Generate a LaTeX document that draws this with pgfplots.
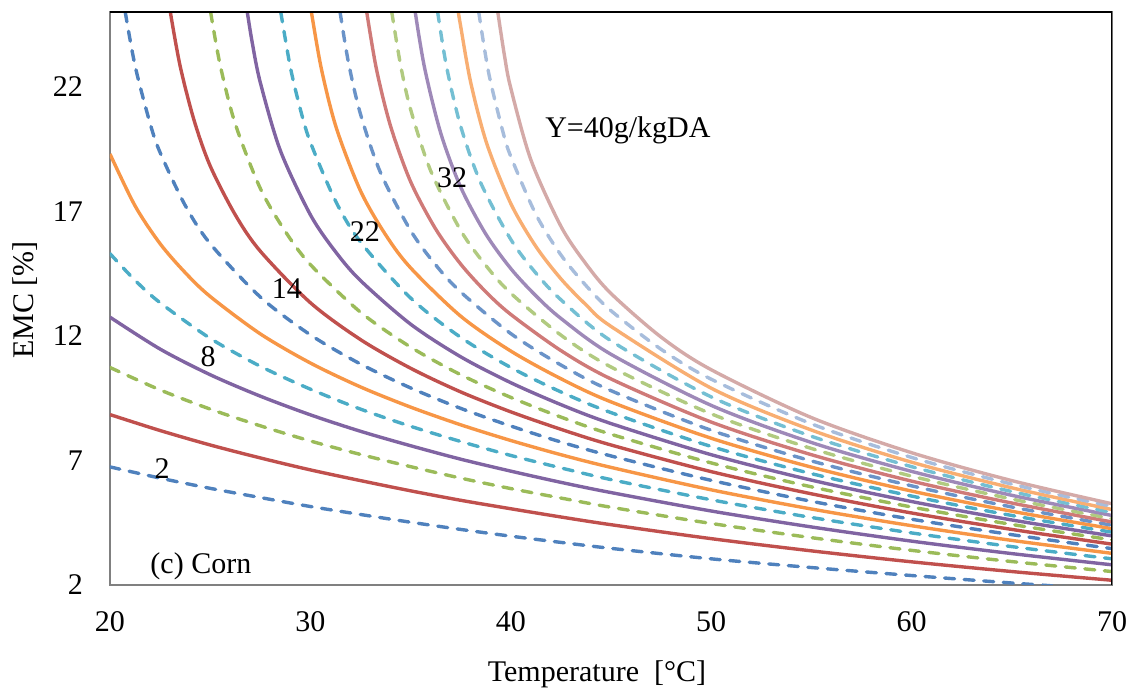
\documentclass[border=0pt]{standalone}
\usepackage{fontspec}
\setmainfont{Liberation Serif}
\usepackage{pgfplots}
\pgfplotsset{compat=1.18}
\definecolor{cA}{HTML}{4F81BD}
\definecolor{cB}{HTML}{C0504D}
\definecolor{cC}{HTML}{9BBB59}
\definecolor{cD}{HTML}{8064A2}
\definecolor{cE}{HTML}{4BACC6}
\definecolor{cF}{HTML}{F79646}
\definecolor{lA}{HTML}{6A93C8}
\definecolor{lB}{HTML}{CF7A78}
\definecolor{lC}{HTML}{B1CA80}
\definecolor{lD}{HTML}{9E89B8}
\definecolor{lE}{HTML}{74BFD3}
\definecolor{lF}{HTML}{F8AE72}
\definecolor{mA}{HTML}{A7BDDC}
\definecolor{mB}{HTML}{D4AAA8}
\tikzset{dsh/.style={dash pattern=on 5pt off 4.8pt, line cap=round}}
\begin{document}
\begin{tikzpicture}[font=\fontsize{15}{18}\selectfont]
\begin{axis}[
  at={(0,0)}, anchor=south west,
  scale only axis, width=501pt, height=286.5pt,
  xmin=20, xmax=70, ymin=2, ymax=25,
  xtick={20,30,40,50,60,70}, ytick={2,7,12,17,22},
  major tick length=0pt,
  axis line style={draw=black!50, line width=0.8pt},
  /pgf/number format/assume math mode=true,
  xticklabel style={yshift=-9.5pt},
  yticklabel style={xshift=-10pt},
  xlabel={Temperature\ \ [°C]},
  ylabel={EMC [\%]},
  every axis x label/.style={at={(axis description cs:0.486,-0.155)}, anchor=center},
  every axis y label/.style={at={(axis description cs:-0.0848,0.497)}, anchor=center, rotate=90},
  every axis plot/.append style={line width=1.7pt, smooth},
]
% Y=2
\addplot[cA,dsh] coordinates {(20,6.74) (22.5,6.29) (25,5.88) (27.5,5.51) (30,5.15) (32.5,4.83) (35,4.52) (37.5,4.23) (40,3.96) (42.5,3.71) (45,3.47) (50,3.05) (55,2.70) (60,2.38) (65,2.08) (70,1.80)};
% Y=4
\addplot[cB] coordinates {(20,8.84) (22.5,8.20) (25,7.62) (27.5,7.10) (30,6.62) (32.5,6.19) (35,5.78) (37.5,5.40) (40,5.06) (42.5,4.73) (45,4.42) (50,3.86) (55,3.37) (60,2.93) (65,2.54) (70,2.19)};
% Y=6
\addplot[cC,dsh] coordinates {(20,10.73) (22.5,9.83) (25,9.06) (27.5,8.39) (30,7.78) (32.5,7.24) (35,6.75) (37.5,6.29) (40,5.87) (42.5,5.49) (45,5.12) (50,4.47) (55,3.90) (60,3.39) (65,2.94) (70,2.54)};
% Y=8
\addplot[cD] coordinates {(20,12.75) (22.5,11.47) (25,10.44) (27.5,9.58) (30,8.83) (32.5,8.17) (35,7.59) (37.5,7.05) (40,6.57) (42.5,6.12) (45,5.71) (50,4.97) (55,4.33) (60,3.76) (65,3.26) (70,2.81)};
% Y=10
\addplot[cE,dsh] coordinates {(20,15.30) (21.25,14.23) (22.5,13.33) (25,11.90) (27.5,10.78) (30,9.86) (32.5,9.06) (35,8.37) (37.5,7.76) (40,7.20) (42.5,6.70) (45,6.23) (50,5.42) (55,4.71) (60,4.09) (65,3.54) (70,3.05)};
% Y=12
\addplot[cF] coordinates {(20,19.30) (21.25,17.22) (22.5,15.70) (23.75,14.54) (25,13.58) (27.5,12.08) (30,10.91) (32.5,9.95) (35,9.14) (37.5,8.43) (40,7.80) (42.5,7.23) (45,6.72) (50,5.82) (55,5.05) (60,4.38) (65,3.79) (70,3.27)};
% Y=14
\addplot[cA,dsh] coordinates {(20.76,25) (21.26,22.81) (22,20.53) (22.5,19.36) (23.75,17.24) (25,15.70) (27.5,13.56) (30,12.04) (32.5,10.87) (35,9.91) (37.5,9.09) (40,8.38) (42.5,7.74) (45,7.18) (50,6.20) (55,5.36) (60,4.64) (65,4.02) (70,3.46)};
% Y=16
\addplot[cB] coordinates {(23.01,25) (23.5,22.83) (24.2,20.64) (25,18.82) (26.25,16.86) (27.5,15.40) (30,13.33) (32.5,11.85) (35,10.70) (37.5,9.75) (40,8.95) (42.5,8.25) (45,7.62) (50,6.55) (55,5.66) (60,4.89) (65,4.23) (70,3.64)};
% Y=18
\addplot[cC,dsh] coordinates {(25.02,25) (25.5,22.86) (26.25,20.51) (27.5,17.92) (28.75,16.19) (30,14.86) (32.5,12.95) (35,11.55) (37.5,10.44) (40,9.53) (42.5,8.74) (45,8.05) (50,6.90) (55,5.94) (60,5.13) (65,4.43) (70,3.81)};
% Y=20
\addplot[cD] coordinates {(26.85,25) (27.1,23.76) (27.5,22.17) (28.5,19.44) (30,16.86) (31.25,15.38) (32.5,14.22) (35,12.47) (37.5,11.16) (40,10.12) (42.5,9.24) (45,8.48) (50,7.23) (55,6.21) (60,5.35) (65,4.61) (70,3.97)};
% Y=22
\addplot[cE,dsh] coordinates {(28.52,25) (29,22.78) (29.5,21.09) (30,19.77) (31.25,17.42) (32.5,15.77) (35,13.52) (37.5,11.94) (40,10.73) (42.5,9.75) (45,8.92) (50,7.56) (55,6.47) (60,5.57) (65,4.79) (70,4.12)};
% Y=24
\addplot[cF] coordinates {(30.05,25) (30.55,22.71) (31.3,20.33) (32.5,17.82) (33.75,16.06) (35,14.73) (37.5,12.79) (40,11.39) (42.5,10.28) (45,9.35) (50,7.89) (55,6.73) (60,5.77) (65,4.96) (70,4.26)};
% Y=26
\addplot[lA,dsh] coordinates {(31.48,25) (31.9,22.97) (32.5,20.90) (33.5,18.55) (35,16.23) (36.25,14.85) (37.5,13.76) (40,12.09) (42.5,10.83) (45,9.80) (50,8.21) (55,6.98) (60,5.98) (65,5.13) (70,4.40)};
% Y=28
\addplot[lB] coordinates {(32.81,25) (33.3,22.69) (34,20.42) (35,18.19) (36.25,16.29) (37.5,14.88) (38.75,13.77) (40,12.86) (42.5,11.41) (45,10.27) (50,8.54) (55,7.23) (60,6.17) (65,5.29) (70,4.53)};
% Y=30
\addplot[lC,dsh] coordinates {(34.06,25) (34.5,22.87) (35,21.09) (36,18.63) (37.5,16.23) (38.75,14.83) (40,13.71) (42.5,12.03) (45,10.75) (50,8.87) (55,7.48) (60,6.37) (65,5.45) (70,4.66)};
% Y=32
\addplot[lD] coordinates {(35.23,25) (35.7,22.75) (36.5,20.15) (37.5,17.97) (38.75,16.09) (40,14.70) (41.25,13.61) (42.5,12.70) (45,11.26) (50,9.21) (55,7.72) (60,6.56) (65,5.60) (70,4.79)};
% Y=34
\addplot[lE,dsh] coordinates {(36.35,25) (36.8,22.78) (37.5,20.41) (38.5,18.14) (40,15.87) (41.25,14.52) (42.5,13.45) (45,11.80) (50,9.55) (55,7.97) (60,6.75) (65,5.75) (70,4.91)};
% Y=36
\addplot[lF] coordinates {(37.38,25) (37.5,24.42) (38,22.17) (38.8,19.72) (40,17.31) (41.25,15.59) (42.5,14.29) (43.75,13.25) (45,12.38) (50,9.90) (55,8.22) (60,6.93) (65,5.90) (70,5.03)};
% Y=38
\addplot[mA,dsh] coordinates {(38.40,25) (38.9,22.54) (39.6,20.21) (40,19.20) (41.25,16.88) (42.5,15.25) (43.75,14.02) (45,13.01) (47.5,11.46) (50,10.26) (55,8.47) (60,7.12) (65,6.05) (70,5.15)};
% Y=40
\addplot[mB] coordinates {(39.35,25) (39.7,23.17) (40,21.94) (41,19.07) (42.5,16.40) (43.75,14.89) (45,13.70) (47.5,11.95) (50,10.64) (55,8.72) (60,7.31) (65,6.19) (70,5.26)};
\node at (axis cs:22.6,6.67) {2};
\node at (axis cs:24.9,11.18) {8};
\node at (axis cs:28.83,13.9) {14};
\node at (axis cs:32.72,16.17) {22};
\node at (axis cs:37.07,18.33) {32};
\node[anchor=west, inner sep=0pt] at (axis cs:41.7,20.24) {Y=40g/kgDA};
\node[anchor=west, inner sep=0pt] at (axis cs:22.0,2.76) {(c) Corn};
\draw[black, line width=0.8pt] (rel axis cs:0,1) -- (rel axis cs:1,1) -- (rel axis cs:1,0);
\end{axis}
\pgfresetboundingbox
\path (-55pt,-57pt) rectangle (512.5pt,292.5pt);
\end{tikzpicture}
\end{document}
